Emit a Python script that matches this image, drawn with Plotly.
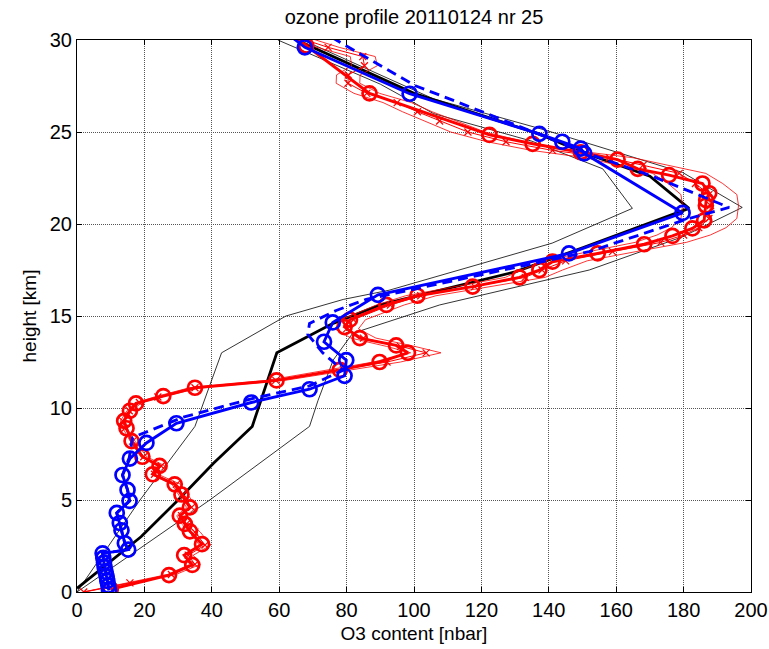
import plotly.graph_objects as go

# ---- a priori profile (thick black) and its bounds (thin black) ----
apriori_h = [0.2, 3.0, 5.0, 7.0, 9.0, 13.0, 14.6, 15.6, 16.5, 17.4, 18.7, 19.7, 20.85, 22.6, 23.9, 24.9, 27.1, 30.1]
apriori_x = [0.0, 19.0, 30.0, 40.5, 52.0, 59.3, 76.0, 90.0, 110.0, 130.0, 150.0, 165.0, 181.6, 170.0, 150.0, 137.0, 100.0, 64.0]

apriori_lo_h = [0.0, 5.0, 9.0, 13.0, 15.0, 15.9, 16.4, 18.96, 20.85, 23.0, 24.5, 26.0, 27.6, 30.0]
apriori_lo_x = [0.0, 18.7, 35.0, 42.9, 62.0, 79.0, 92.6, 141.0, 164.8, 156.0, 135.0, 105.8, 90.0, 59.6]

apriori_hi_h = [0.0, 5.0, 9.0, 10.4, 12.6, 14.06, 15.6, 17.5, 19.3, 20.9, 22.8, 25.1, 26.8, 30.0]
apriori_hi_x = [0.0, 39.4, 69.0, 71.5, 76.0, 81.8, 107.6, 152.0, 179.6, 197.4, 179.7, 139.0, 105.8, 67.0]

# ---- ozonesonde, smoothed (thick red, circles) ----
sonde_h = [0.15, 0.92, 1.47, 2.0, 2.6, 3.3, 3.7, 4.15, 4.6, 5.3, 5.85, 6.4, 6.85, 7.35, 8.2, 8.9, 9.3,
           9.85, 10.25, 10.65, 11.1, 11.5, 12.07, 12.5, 13.0, 13.4, 13.8, 14.4, 14.8, 15.6, 16.1, 16.6,
           17.1, 17.5, 17.95, 18.4, 18.9, 19.35, 19.76, 20.2, 21.0, 21.3, 21.67, 22.2, 22.66, 23.0, 23.5,
           23.9, 24.36, 24.84, 27.1, 29.7, 30.6]
sonde_x = [10.0, 27.3, 34.2, 31.8, 37.1, 33.5, 32.0, 30.5, 33.5, 31.0, 29.0, 22.5, 24.5, 19.4, 16.2, 14.7, 14.0,
           15.7, 17.5, 25.6, 35.0, 59.2, 78.0, 89.8, 98.2, 94.7, 83.9, 79.4, 81.0, 91.8, 101.0, 117.4,
           131.3, 137.2, 141.1, 154.5, 168.3, 176.7, 182.6, 186.1, 186.6, 186.7, 187.6, 185.6, 175.7, 166.4, 160.4,
           149.5, 135.2, 122.4, 86.8, 68.0, 61.0]

# ---- ozonesonde, raw (thin red, crosses) with lower/upper bounds ----
raw_h = [0.0, 0.5, 0.95, 1.5, 2.0, 2.55, 3.25, 3.7, 4.15, 4.6, 5.3, 5.85, 6.4, 6.85, 7.35, 8.2, 8.9, 9.3,
         9.85, 10.3, 10.6, 11.1, 11.5, 12.1, 12.5, 13.0, 13.35, 13.8, 14.3, 14.8, 15.6, 16.1, 16.6, 17.1,
         17.5, 18.0, 18.5, 19.0, 19.4, 19.8, 20.3, 21.0, 21.6, 22.2, 22.75, 23.2, 23.6, 24.0, 24.47, 25.0,
         25.6, 26.1, 26.6, 27.1, 27.65, 28.1, 28.6, 29.1, 29.6, 30.2]
raw_x = [2.0, 15.7, 28.0, 35.0, 33.0, 38.0, 35.0, 32.5, 31.0, 34.0, 31.5, 29.5, 23.0, 25.0, 19.8, 16.5, 14.2, 13.5,
         15.5, 18.5, 24.0, 35.0, 59.0, 79.0, 92.0, 103.6, 96.0, 85.0, 80.0, 82.0, 93.0, 102.0, 118.0, 133.0,
         138.0, 145.0, 158.9, 173.2, 180.0, 184.5, 187.5, 188.0, 187.5, 183.5, 178.7, 168.0, 158.0, 141.1, 127.3, 116.0,
         107.6, 101.0, 95.0, 86.0, 80.4, 80.5, 85.3, 84.8, 74.5, 64.6]
raw_lo = [1.8, 15.0, 26.8, 33.5, 31.6, 36.3, 33.5, 31.0, 29.6, 32.5, 30.1, 28.2, 22.0, 23.9, 18.9, 15.8, 13.6, 12.9,
          14.8, 17.7, 23.0, 33.4, 56.4, 75.5, 88.0, 99.0, 91.8, 81.3, 76.5, 78.4, 88.9, 97.5, 112.8, 127.1,
          131.9, 138.6, 151.9, 165.6, 172.1, 176.4, 179.2, 179.7, 179.2, 175.4, 170.8, 160.6, 151.0, 134.9, 121.7, 110.9,
          102.9, 96.6, 90.8, 82.2, 76.9, 77.0, 81.5, 81.1, 71.2, 61.8]
raw_hi = [2.2, 16.5, 29.3, 36.6, 34.5, 39.7, 36.6, 34.0, 32.4, 35.5, 32.9, 30.8, 24.0, 26.1, 20.7, 17.2, 14.8, 14.1,
          16.2, 19.3, 25.0, 36.6, 61.6, 82.5, 96.0, 108.0, 100.2, 88.7, 83.5, 85.6, 97.1, 106.5, 123.2, 138.9,
          144.1, 151.4, 165.9, 180.8, 187.9, 192.6, 195.8, 196.3, 195.8, 191.6, 186.6, 175.4, 165.0, 147.3, 132.9, 121.1,
          112.3, 105.4, 99.2, 89.8, 83.9, 84.0, 89.1, 88.5, 77.8, 67.4]

# ---- retrieved profile (thick blue, circles) ----
retr_h = [0.1, 0.35, 0.6, 0.85, 1.1, 1.35, 1.6, 1.85, 2.1, 2.3, 2.65, 3.35, 3.75, 4.3, 4.95, 5.55, 6.36,
          7.25, 8.1, 9.17, 10.3, 11.02, 11.75, 12.6, 13.6, 14.65, 16.15, 18.4, 20.6, 23.84, 24.1, 24.47,
          24.9, 27.08, 29.6, 31.0]
retr_x = [9.5, 9.3, 9.0, 8.8, 8.5, 8.2, 8.0, 7.8, 7.6, 15.2, 14.2, 13.2, 12.7, 11.8, 15.6, 15.0, 13.5,
          15.7, 20.6, 29.5, 51.7, 69.0, 79.4, 79.9, 73.3, 75.9, 89.3, 146.0, 179.7, 150.5, 149.5, 144.0,
          137.2, 98.7, 67.6, 58.0]

# ---- alternative retrieval (dashed blue) ----
alt_h = [0.1, 2.1, 2.3, 2.65, 3.35, 3.75, 4.3, 4.95, 5.55, 6.36, 7.3, 8.4, 9.5, 10.5, 11.2, 12.05,
         13.0, 14.0, 14.6, 15.3, 15.9, 18.5, 20.3, 20.9, 22.6, 23.8, 24.9, 26.8, 27.5, 30.1]
alt_x = [9.5, 7.6, 15.2, 14.2, 13.2, 12.7, 11.8, 15.6, 15.0, 13.5, 15.5, 16.5, 31.5, 51.7, 69.0, 78.9,
         72.9, 68.5, 69.0, 76.9, 85.8, 152.0, 181.6, 193.5, 170.7, 152.0, 137.0, 110.5, 100.6, 76.0]

RED = "#ff0000"
BLUE = "#0000ff"
FONT = "Liberation Sans, Arial, sans-serif"

fig = go.Figure()

# a priori bounds
for xs, hs in ((apriori_lo_x, apriori_lo_h), (apriori_hi_x, apriori_hi_h)):
    fig.add_trace(go.Scatter(x=xs, y=hs, mode="lines",
                             line=dict(color="#000000", width=0.8)))

# a priori
fig.add_trace(go.Scatter(x=apriori_x, y=apriori_h, mode="lines",
                         line=dict(color="#000000", width=2.8)))

# sonde raw bounds
for xs in (raw_lo, raw_hi):
    fig.add_trace(go.Scatter(x=xs, y=raw_h, mode="lines",
                             line=dict(color=RED, width=0.8)))

# sonde raw
fig.add_trace(go.Scatter(x=raw_x, y=raw_h, mode="lines+markers",
                         line=dict(color=RED, width=1),
                         marker=dict(symbol="x-thin-open", size=7,
                                     line=dict(color=RED, width=1.2))))

# sonde smoothed
fig.add_trace(go.Scatter(x=sonde_x, y=sonde_h, mode="lines+markers",
                         line=dict(color=RED, width=2.9),
                         marker=dict(symbol="circle-open", size=14,
                                     line=dict(color=RED, width=2.7))))

# alternative retrieval
fig.add_trace(go.Scatter(x=alt_x, y=alt_h, mode="lines",
                         line=dict(color=BLUE, width=2.9, dash="10px,6px")))

# retrieval
fig.add_trace(go.Scatter(x=retr_x, y=retr_h, mode="lines+markers",
                         line=dict(color=BLUE, width=2.9),
                         marker=dict(symbol="circle-open", size=14,
                                     line=dict(color=BLUE, width=2.7))))

axis_common = dict(
    showline=True, linecolor="#000000", linewidth=1, mirror="allticks",
    ticks="inside", ticklen=5, tickcolor="#000000",
    showgrid=True, gridcolor="#555555", gridwidth=1, griddash="1px,1px",
    zeroline=False, automargin=False,
    tickfont=dict(family=FONT, size=20, color="#000000"),
)

fig.update_layout(
    width=769, height=649,
    margin=dict(l=77, r=18, t=40, b=57),
    paper_bgcolor="#ffffff", plot_bgcolor="#ffffff",
    showlegend=False,
    font=dict(family=FONT, size=20, color="#000000"),
    title=dict(text="ozone profile 20110124 nr 25", x=0.5, xref="paper",
               y=0.985, yref="container", yanchor="top",
               font=dict(family=FONT, size=20, color="#000000")),
    xaxis=dict(range=[0, 200], tickvals=list(range(0, 201, 20)),
               title=dict(text="O3 content [nbar]", standoff=6,
                          font=dict(family=FONT, size=19)),
               **axis_common),
    yaxis=dict(range=[0, 30], tickvals=list(range(0, 31, 5)),
               title=dict(text="height [km]", standoff=8,
                          font=dict(family=FONT, size=19)),
               **axis_common),
)

fig.write_html("out.html")
